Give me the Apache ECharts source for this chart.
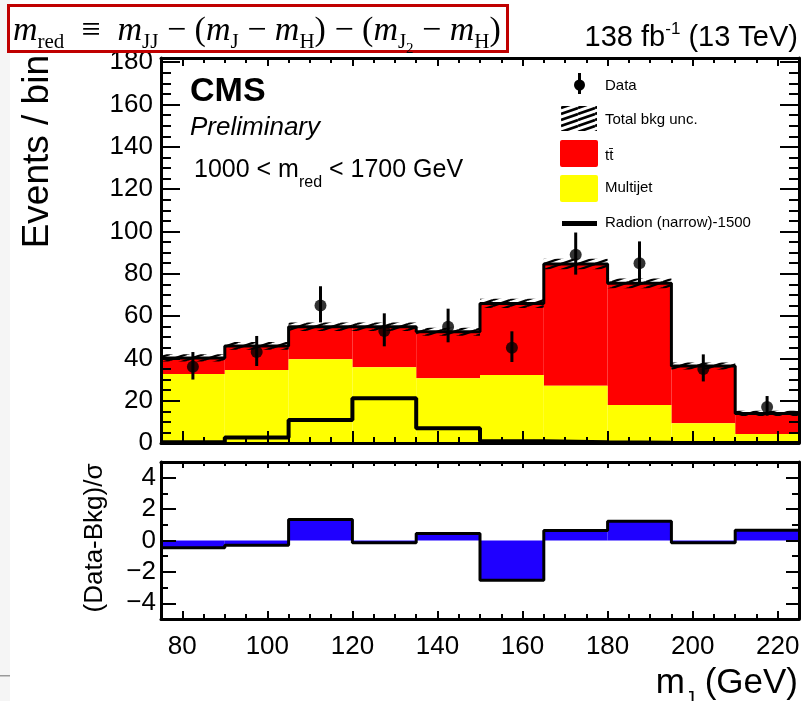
<!DOCTYPE html>
<html>
<head>
<meta charset="utf-8">
<title>m_J distribution, 1000 &lt; m_red &lt; 1700 GeV</title>
<script src="https://cdn.jsdelivr.net/npm/echarts@6.0.0/dist/echarts.min.js"></script>
<style>
  html, body { margin: 0; padding: 0; background: #ffffff; }
  #chart { width: 803px; height: 701px; }
</style>
</head>
<body>
<div id="chart"></div>
<script>
// ---- histogram content -------------------------------------------------
// bin edges of m_J (GeV)
const binEdges = [75, 90, 105, 120, 135, 150, 165, 180, 195, 210, 225];
// stacked backgrounds, events per bin
const multijet = [32.6, 34.5, 39.6, 35.8, 30.6, 32.2, 27.1, 18.0, 9.3, 4.3];
const ttbar    = [7.6, 11.4, 15.4, 19.2, 22.0, 33.8, 57.5, 57.5, 27.1, 9.7];
// total background uncertainty (events)
const bkgUnc   = [1.7, 1.8, 2.0, 2.0, 1.9, 2.2, 2.5, 2.3, 1.6, 1.2];
// signal template, Radion (narrow) 1500 GeV
const radion   = [0.4, 2.6, 10.9, 21.1, 7.0, 0.8, 0.3, 0.1, 0.05, 0.02];
// observed data with error bars
const dataCounts  = [36, 43, 65, 53, 55, 45, 89, 85, 35, 17];
const dataErrUp   = [7.0, 7.6, 9.1, 8.3, 8.5, 7.8, 10.5, 10.3, 6.9, 5.2];
const dataErrDown = [6.0, 6.6, 8.0, 7.3, 7.4, 6.7, 9.4, 9.2, 5.9, 4.1];
// (Data-Bkg)/sigma per bin
const pulls = [-0.46, -0.30, 1.33, -0.15, 0.44, -2.53, 0.63, 1.22, -0.15, 0.65];

// ---- axis ticks ---------------------------------------------------------
const xMajorTicks = [80, 100, 120, 140, 160, 180, 200, 220];
const xMinorTicks = [75, 80, 85, 90, 95, 100, 105, 110, 115, 120, 125, 130, 135, 140, 145, 150,
                     155, 160, 165, 170, 175, 180, 185, 190, 195, 200, 205, 210, 215, 220, 225];
const yMajorTicks = [0, 20, 40, 60, 80, 100, 120, 140, 160, 180];
const yMinorTicks = [0, 5, 10, 15, 20, 25, 30, 35, 40, 45, 50, 55, 60, 65, 70, 75, 80, 85, 90,
                     95, 100, 105, 110, 115, 120, 125, 130, 135, 140, 145, 150, 155, 160, 165,
                     170, 175, 180];
const pullMajorTicks = [-4, -2, 0, 2, 4];
const pullMinorTicks = [-5, -4, -3, -2, -1, 0, 1, 2, 3, 4, 5];

// ---- derived quantities ---------------------------------------------------
const binLo = binEdges.slice(0, -1);
const binHi = binEdges.slice(1);
const binCenter = binLo.map((lo, i) => (lo + binHi[i]) / 2);
const totalBkg = multijet.map((v, i) => v + ttbar[i]);

function stepPoints(vals) {
  const pts = [];
  vals.forEach((v, i) => { pts.push([binLo[i], v], [binHi[i], v]); });
  return pts;
}

// diagonal hatch used for the background uncertainty band
function hatchImage(lw) {
  const c = document.createElement('canvas');
  c.width = 17; c.height = 6;
  const g = c.getContext('2d');
  g.strokeStyle = '#000';
  g.lineWidth = lw;
  g.beginPath();
  for (const dy of [-6, 0, 6]) { g.moveTo(0, 6 + dy); g.lineTo(17, dy); }
  g.stroke();
  return c;
}
const hatchFill = { image: hatchImage(2.2), repeat: 'repeat' };
const hatchLegend = { image: hatchImage(2.6), repeat: 'repeat' };

const SANS = 'Liberation Sans';
const SERIF = 'Liberation Serif';
const BLACK = '#000000';

// ---- axes ---------------------------------------------------------------
function axis(o) {
  return {
    type: 'value',
    gridIndex: o.grid,
    position: o.position,
    min: o.min, max: o.max,
    z: 10,
    axisLine: { show: !!o.line, onZero: false, lineStyle: { color: BLACK, width: 3 } },
    axisTick: { show: true, inside: true, length: o.len, customValues: o.ticks,
                lineStyle: { color: BLACK, width: 2 } },
    axisLabel: o.labels
      ? { show: true, customValues: o.ticks, color: BLACK, fontFamily: SANS, fontSize: 26,
          margin: o.margin, formatter: o.formatter }
      : { show: false },
    splitLine: { show: false },
    minorTick: { show: false }
  };
}
const minusFmt = v => (v < 0 ? '\u2212' + Math.abs(v) : String(v));

const xAxes = [
  axis({ grid: 0, position: 'bottom', min: 75, max: 225, ticks: xMajorTicks, len: 12, line: true }),
  axis({ grid: 0, position: 'bottom', min: 75, max: 225, ticks: xMinorTicks, len: 6 }),
  axis({ grid: 0, position: 'top', min: 75, max: 225, ticks: xMajorTicks, len: 8, line: true }),
  axis({ grid: 0, position: 'top', min: 75, max: 225, ticks: xMinorTicks, len: 5 }),
  axis({ grid: 1, position: 'bottom', min: 75, max: 225, ticks: xMajorTicks, len: 8, line: true,
         labels: true, margin: 15 }),
  axis({ grid: 1, position: 'bottom', min: 75, max: 225, ticks: xMinorTicks, len: 5 }),
  axis({ grid: 1, position: 'top', min: 75, max: 225, ticks: xMajorTicks, len: 6, line: true }),
  axis({ grid: 1, position: 'top', min: 75, max: 225, ticks: xMinorTicks, len: 4 })
];
const yAxes = [
  axis({ grid: 0, position: 'left', min: 0, max: 182, ticks: yMajorTicks, len: 19, line: true,
         labels: true, margin: 8 }),
  axis({ grid: 0, position: 'left', min: 0, max: 182, ticks: yMinorTicks, len: 10 }),
  axis({ grid: 0, position: 'right', min: 0, max: 182, ticks: yMajorTicks, len: 19, line: true }),
  axis({ grid: 0, position: 'right', min: 0, max: 182, ticks: yMinorTicks, len: 10 }),
  axis({ grid: 1, position: 'left', min: -5, max: 5, ticks: pullMajorTicks, len: 15, line: true,
         labels: true, margin: 5, formatter: minusFmt }),
  axis({ grid: 1, position: 'left', min: -5, max: 5, ticks: pullMinorTicks, len: 7 }),
  axis({ grid: 1, position: 'right', min: -5, max: 5, ticks: pullMajorTicks, len: 13, line: true }),
  axis({ grid: 1, position: 'right', min: -5, max: 5, ticks: pullMinorTicks, len: 7 })
];

// ---- series helpers -------------------------------------------------------
function boxSeries(rows, fill, xi, yi, z) {
  return {
    type: 'custom', xAxisIndex: xi, yAxisIndex: yi, z: z, silent: true,
    data: rows, encode: { x: [0, 1], y: [2, 3] },
    renderItem(params, api) {
      const a = api.coord([api.value(0), api.value(3)]);
      const b = api.coord([api.value(1), api.value(2)]);
      return {
        type: 'rect',
        shape: { x: Math.min(a[0], b[0]), y: Math.min(a[1], b[1]),
                 width: Math.abs(b[0] - a[0]), height: Math.abs(b[1] - a[1]) },
        style: { fill: fill, stroke: null }
      };
    }
  };
}
function stepSeries(vals, width, xi, yi, z) {
  return {
    type: 'line', xAxisIndex: xi, yAxisIndex: yi, z: z, silent: true,
    data: stepPoints(vals), symbol: 'none', showSymbol: false,
    lineStyle: { color: BLACK, width: width }
  };
}

const series = [
  // t tbar on top of multijet
  boxSeries(binLo.map((lo, i) => [lo, binHi[i], multijet[i], totalBkg[i]]), '#ff0000', 0, 0, 2),
  boxSeries(binLo.map((lo, i) => [lo, binHi[i], 0, multijet[i]]), '#ffff00', 0, 0, 3),
  stepSeries(radion, 4, 0, 0, 4),
  boxSeries(binLo.map((lo, i) => [lo, binHi[i], totalBkg[i] - bkgUnc[i], totalBkg[i] + bkgUnc[i]]),
            hatchFill, 0, 0, 5),
  stepSeries(totalBkg, 3, 0, 0, 6),
  {
    type: 'custom', xAxisIndex: 0, yAxisIndex: 0, z: 7, silent: true,
    data: binCenter.map((c, i) => [c, dataCounts[i] - dataErrDown[i], dataCounts[i] + dataErrUp[i]]),
    encode: { x: 0, y: [1, 2] },
    renderItem(params, api) {
      const lo = api.coord([api.value(0), api.value(1)]);
      const hi = api.coord([api.value(0), api.value(2)]);
      return { type: 'line', shape: { x1: lo[0], y1: lo[1], x2: hi[0], y2: hi[1] },
               style: { stroke: BLACK, lineWidth: 3 } };
    }
  },
  {
    type: 'scatter', xAxisIndex: 0, yAxisIndex: 0, z: 8, silent: true,
    data: binCenter.map((c, i) => [c, dataCounts[i]]),
    symbol: 'circle', symbolSize: 12, itemStyle: { color: BLACK }
  },
  // pull panel
  boxSeries(binLo.map((lo, i) => [lo, binHi[i], 0, pulls[i]]), '#1f00ff', 4, 4, 2),
  stepSeries(pulls, 3, 4, 4, 3)
];

// ---- text and legend ----------------------------------------------------
const subShift = 22;
const formulaRich = {
  mi: { fontFamily: SERIF, fontStyle: 'italic', fontSize: 34, lineHeight: 44, verticalAlign: 'middle' },
  rm: { fontFamily: SERIF, fontSize: 34, lineHeight: 44, verticalAlign: 'middle' },
  sb: { fontFamily: SERIF, fontSize: 21, lineHeight: 44, verticalAlign: 'middle', padding: [subShift, 0, 0, 0] },
  ss: { fontFamily: SERIF, fontSize: 15, lineHeight: 44, verticalAlign: 'middle', padding: [subShift + 14, 0, 0, 0] }
};
const formulaText =
  '{mi|m}{sb|red}{rm|  \u2261  }{mi|m}{sb|JJ}{rm| \u2212 (}{mi|m}{sb|J}{rm| \u2212 }{mi|m}{sb|H}' +
  '{rm|) \u2212 (}{mi|m}{sb|J}{ss|2}{rm| \u2212 }{mi|m}{sb|H}{rm|)}';

function txt(x, y, text, style, extra) {
  return Object.assign({ type: 'text', x: x, y: y, z: 100,
    style: Object.assign({ text: text, fill: BLACK, fontFamily: SANS }, style) }, extra || {});
}

const graphics = [
  { type: 'rect', z: 0, shape: { x: 0, y: 0, width: 10, height: 701 }, style: { fill: '#f5f5f5' } },
  { type: 'rect', z: 0, shape: { x: 0, y: 675, width: 10, height: 1.5 }, style: { fill: '#9a9a9a' } },

  // y title of the upper pad
  txt(38, 55, 'Events / bin', { fontSize: 37, align: 'right', verticalAlign: 'middle' },
      { rotation: Math.PI / 2 }),

  // formula box
  { type: 'rect', z: 110, shape: { x: 8.5, y: 5.5, width: 499, height: 46 },
    style: { fill: '#ffffff', stroke: '#c00000', lineWidth: 3 } },
  txt(13, 31, formulaText, { rich: formulaRich, align: 'left', verticalAlign: 'middle' }, { z: 111 }),

  // luminosity label
  txt(798, 38, '{a|138 fb}{s|-1}{a| (13 TeV)}', {
    align: 'right', verticalAlign: 'middle',
    rich: { a: { fontFamily: SANS, fontSize: 29, lineHeight: 34, verticalAlign: 'middle' },
            s: { fontFamily: SANS, fontSize: 17, lineHeight: 34, verticalAlign: 'middle', padding: [0, 0, 17, 0] } }
  }),

  // experiment labels
  txt(190, 92, 'CMS', { fontSize: 34, fontWeight: 'bold', align: 'left', verticalAlign: 'middle' }),
  txt(190, 128, 'Preliminary', { fontSize: 26, fontStyle: 'italic', align: 'left', verticalAlign: 'middle' }),
  txt(194, 170, '{a|1000 < m}{s|red}{a| < 1700 GeV}', {
    align: 'left', verticalAlign: 'middle',
    rich: { a: { fontFamily: SANS, fontSize: 25, lineHeight: 34, verticalAlign: 'middle' },
            s: { fontFamily: SANS, fontSize: 16, lineHeight: 34, verticalAlign: 'middle', padding: [26, 0, 0, 0] } }
  }),

  // legend
  { type: 'line', z: 100, shape: { x1: 579.5, y1: 73, x2: 579.5, y2: 94 }, style: { stroke: BLACK, lineWidth: 3 } },
  { type: 'circle', z: 101, shape: { cx: 579.5, cy: 85, r: 5.5 }, style: { fill: BLACK } },
  txt(605, 86, 'Data', { fontSize: 15, align: 'left', verticalAlign: 'middle' }),
  { type: 'rect', z: 100, shape: { x: 561, y: 106, width: 36, height: 25 }, style: { fill: hatchLegend } },
  txt(605, 120, 'Total bkg unc.', { fontSize: 15, align: 'left', verticalAlign: 'middle' }),
  { type: 'rect', z: 100, shape: { x: 560, y: 140, width: 38, height: 27, r: 2 }, style: { fill: '#ff0000' } },
  txt(605, 156, 'tt\u0304', { fontSize: 15, align: 'left', verticalAlign: 'middle' }),
  { type: 'rect', z: 100, shape: { x: 560, y: 175, width: 38, height: 27, r: 2 }, style: { fill: '#ffff00' } },
  txt(605, 188, 'Multijet', { fontSize: 15, align: 'left', verticalAlign: 'middle' }),
  { type: 'line', z: 100, shape: { x1: 562, y1: 223.5, x2: 597, y2: 223.5 }, style: { stroke: BLACK, lineWidth: 5 } },
  txt(605, 223, 'Radion (narrow)-1500', { fontSize: 15, align: 'left', verticalAlign: 'middle' }),

  // y title of the pull pad
  txt(95, 538, '(Data-Bkg)/\u03c3', { fontSize: 26, align: 'center', verticalAlign: 'middle' },
      { rotation: Math.PI / 2 }),

  // x title
  txt(798, 683, '{a|m}{s|J}{a| (GeV)}', {
    align: 'right', verticalAlign: 'middle',
    rich: { a: { fontFamily: SANS, fontSize: 35, lineHeight: 40, verticalAlign: 'middle' },
            s: { fontFamily: SANS, fontSize: 20, lineHeight: 40, verticalAlign: 'middle', padding: [32, 0, 0, 0] } }
  })
];

const chart = echarts.init(document.getElementById('chart'), null, { renderer: 'canvas' });
chart.setOption({
  animation: false,
  backgroundColor: '#ffffff',
  grid: [
    { left: 161, right: 4, top: 58, height: 385, outerBoundsMode: 'none' },
    { left: 161, right: 4, top: 462, height: 157, outerBoundsMode: 'none' }
  ],
  xAxis: xAxes,
  yAxis: yAxes,
  series: series,
  graphic: graphics
});
</script>
</body>
</html>
